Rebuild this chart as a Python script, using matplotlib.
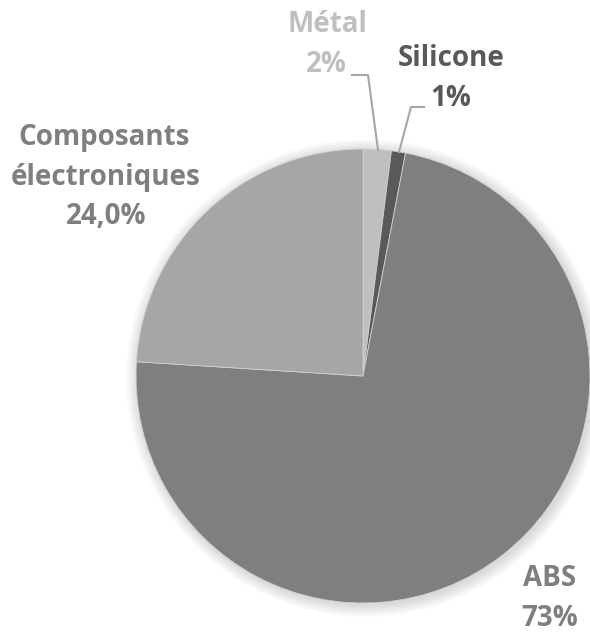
import matplotlib
matplotlib.use("Agg")
import matplotlib.pyplot as plt
from matplotlib.patches import Circle

labels = ["Métal", "Silicone", "ABS", "Composants\nélectroniques"]
values = [2, 1, 73, 24]
pct_text = ["2%", "1%", "73%", "24,0%"]
colors = ["#bfbfbf", "#595959", "#7f7f7f", "#a6a6a6"]
label_colors = ["#bfbfbf", "#595959", "#7f7f7f", "#7f7f7f"]

W, H = 590, 632
fig = plt.figure(figsize=(W / 100, H / 100), dpi=100)
ax = fig.add_axes([0, 0, 1, 1])
ax.set_xlim(0, W)
ax.set_ylim(0, H)
ax.set_aspect("equal")
ax.axis("off")

cx, cy, R = 363, H - 376, 227

# soft shadow
for k in range(12):
    ax.add_patch(Circle((cx + 2, cy - 2), R + 12 - k, color="black",
                        alpha=0.012, lw=0, zorder=0))

ax.pie(values, colors=colors, startangle=90, counterclock=False,
       center=(cx, cy), radius=R, frame=True,
       wedgeprops=dict(linewidth=0.6, edgecolor="#d0d0d0"))
ax.set_xlim(0, W)
ax.set_ylim(0, H)
ax.axis("off")

font = ["Open Sans", "DejaVu Sans"]
fs = 20

def lab(x, y, s, c):
    ax.text(x, H - y, s, ha="center", va="center", fontsize=fs,
            fontweight="bold", color=c, family=font)

# Métal
lab(327, 24, labels[0], label_colors[0])
lab(326, 64, pct_text[0], label_colors[0])
# Silicone
lab(451, 58, labels[1], label_colors[1])
lab(451, 98, pct_text[1], label_colors[1])
# ABS
lab(550, 578, labels[2], label_colors[2])
lab(550, 618, pct_text[2], label_colors[2])
# Composants
comp_lines = labels[3].split("\n")
lab(104, 137, comp_lines[0], label_colors[3])
lab(106, 177, comp_lines[1], label_colors[3])
lab(106, 217, pct_text[3], label_colors[3])

# leader lines
ax.plot([352, 368, 378], [H - 75, H - 75, H - 150], color="#a6a6a6", lw=1.5)
ax.plot([424, 411, 399], [H - 107, H - 107, H - 152], color="#a6a6a6", lw=1.5)

fig.savefig("out.png", dpi=100)
